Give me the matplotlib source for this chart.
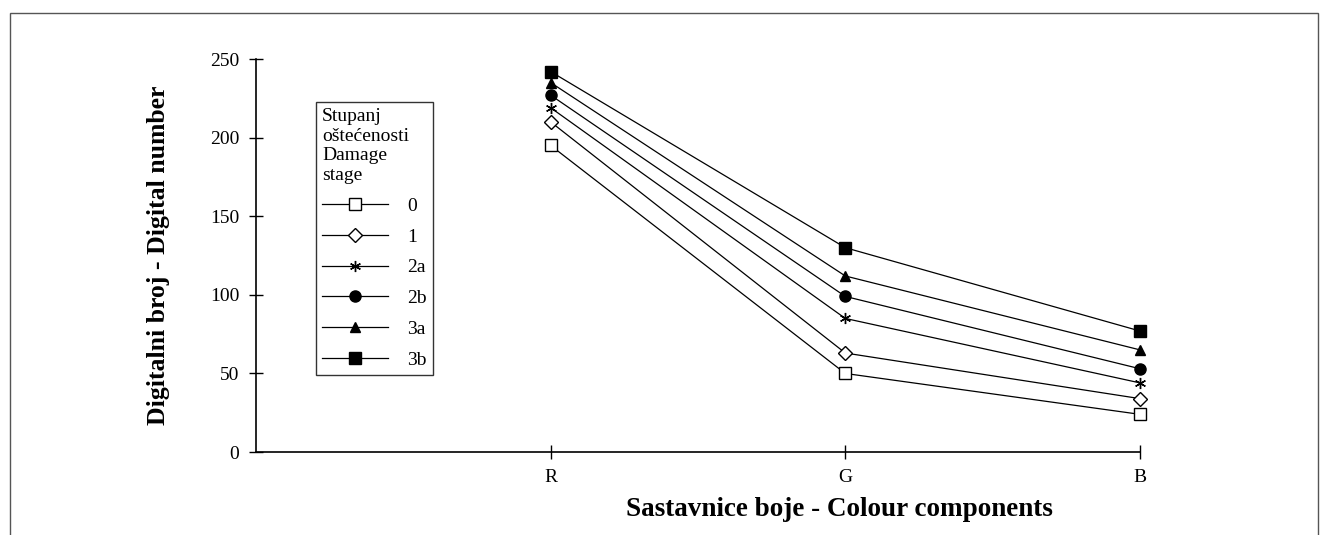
import matplotlib
matplotlib.use('Agg')
import matplotlib.pyplot as plt
from matplotlib.patches import Rectangle

plt.rcParams['font.family'] = ['Liberation Serif', 'DejaVu Serif']

# categories and series (digital number per colour component)
components = ['R', 'G', 'B']
stages = ['0', '1', '2a', '2b', '3a', '3b']
s0 = [195, 50, 24]
s1 = [210, 63, 34]
s2a = [219, 85, 44]
s2b = [227, 99, 53]
s3a = [235, 112, 65]
s3b = [242, 130, 77]

series = [s0, s1, s2a, s2b, s3a, s3b]
markers = ['s', 'D', (6, 2, 0), 'o', '^', 's']
faces = ['white', 'white', 'black', 'black', 'black', 'black']
sizes = [8, 7.5, 8, 8, 7.5, 8]

fig = plt.figure(figsize=(13.28, 5.35), dpi=100)
ax = fig.add_axes([0.1928, 0.155, 0.6656, 0.7347])

xpos = [1, 2, 3]
for vals, m, fc, ms, lab in zip(series, markers, faces, sizes, stages):
    ax.plot(xpos, vals, color='black', lw=0.9, marker=m, markersize=ms,
            markerfacecolor=fc, markeredgecolor='black', markeredgewidth=1,
            label=lab, clip_on=False)

ax.set_xlim(0, 3)
ax.set_ylim(0, 250)
ax.set_xticks(xpos)
ax.set_xticklabels(components)
ax.set_yticks([0, 50, 100, 150, 200, 250])
ax.spines['top'].set_visible(False)
ax.spines['right'].set_visible(False)
ax.spines['left'].set_linewidth(1.2)
ax.spines['bottom'].set_linewidth(1.2)
ax.tick_params(direction='inout', length=10, width=1, labelsize=14, pad=7)

ax.set_ylabel('Digitalni broj - Digital number', fontsize=18.5, fontweight='bold')
ax.yaxis.set_label_coords(-0.097, 0.5)
ax.set_xlabel('Sastavnice boje - Colour components', fontsize=19.5, fontweight='bold')
ax.xaxis.set_label_coords(0.66, -0.115)

leg = ax.legend(title='Stupanj\noštećenosti\nDamage\nstage', loc='upper left',
                bbox_to_anchor=(0.068, 0.89), frameon=True, fancybox=False,
                edgecolor='black', handlelength=3.4, handletextpad=1.0,
                labelspacing=0.68, fontsize=14, title_fontsize=14,
                borderpad=0.3, borderaxespad=0, alignment='left')
leg.get_frame().set_linewidth(1)

fig.patches.append(Rectangle((10 / 1328, -0.1), 1308 / 1328, 1.1 - 13 / 535,
                             transform=fig.transFigure, fill=False,
                             edgecolor='#555555', lw=1))

fig.savefig('out.png', dpi=100)
